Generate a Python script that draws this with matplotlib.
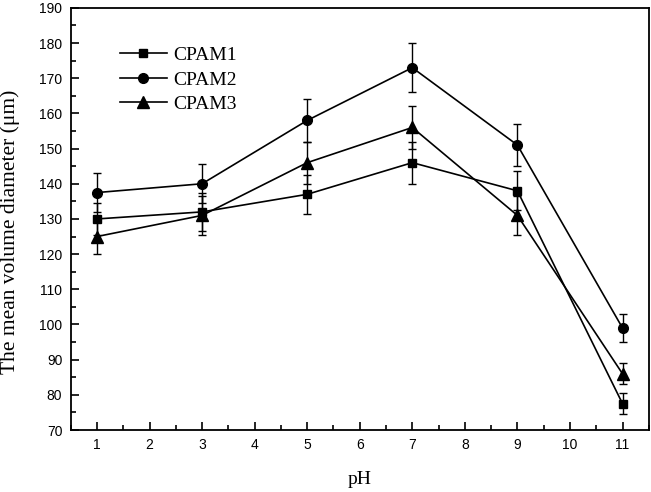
import matplotlib.pyplot as plt
from matplotlib.ticker import MultipleLocator

ph = [1, 3, 5, 7, 9, 11]

cpam1 = [130, 132, 137, 146, 138, 77.5]
cpam1_err = [4.5, 5.5, 5.5, 6, 5.5, 3]

cpam2 = [137.5, 140, 158, 173, 151, 99]
cpam2_err = [5.5, 5.5, 6, 7, 6, 4]

cpam3 = [125, 131, 146, 156, 131, 86]
cpam3_err = [5, 5.5, 6, 6, 5.5, 3]

plt.rcParams["font.family"] = ["Liberation Sans", "DejaVu Sans"]

fig = plt.figure(figsize=(6.51, 4.92), dpi=100)
ax = fig.add_axes([0.1086, 0.126, 0.888, 0.858])

ax.errorbar(ph, cpam1, yerr=cpam1_err, color="black", marker="s", markersize=6,
            linewidth=1.2, elinewidth=1, capsize=3, label="CPAM1")
ax.errorbar(ph, cpam2, yerr=cpam2_err, color="black", marker="o", markersize=7,
            linewidth=1.2, elinewidth=1, capsize=3, label="CPAM2")
ax.errorbar(ph, cpam3, yerr=cpam3_err, color="black", marker="^", markersize=8,
            linewidth=1.2, elinewidth=1, capsize=3, label="CPAM3")

ax.set_xlim(0.5, 11.5)
ax.set_ylim(70, 190)
ax.xaxis.set_major_locator(MultipleLocator(1))
ax.xaxis.set_minor_locator(MultipleLocator(0.5))
ax.yaxis.set_major_locator(MultipleLocator(10))
ax.yaxis.set_minor_locator(MultipleLocator(5))
ax.tick_params(which="major", direction="in", length=6, width=1.2, labelsize=10, pad=6)
ax.tick_params(which="minor", direction="in", length=3.5, width=1.2)
for s in ax.spines.values():
    s.set_linewidth(1.3)

ax.set_xlabel("pH", fontfamily="Liberation Serif", fontsize=14)
ax.set_ylabel("The mean volume diameter (\u03bcm)", fontfamily="Liberation Serif",
              fontsize=15.5)
ax.xaxis.set_label_coords(0.5, -0.097)
ax.yaxis.set_label_coords(-0.088, 0.47)

handles, labels = ax.get_legend_handles_labels()
handles = [h[0] for h in handles]
ax.legend(handles, labels, loc="upper left", bbox_to_anchor=(0.055, 0.95), frameon=False,
          prop={"family": "Liberation Serif", "size": 14}, handlelength=2.4,
          handletextpad=0.35, labelspacing=0.35)

fig.savefig("out.png", dpi=100)
